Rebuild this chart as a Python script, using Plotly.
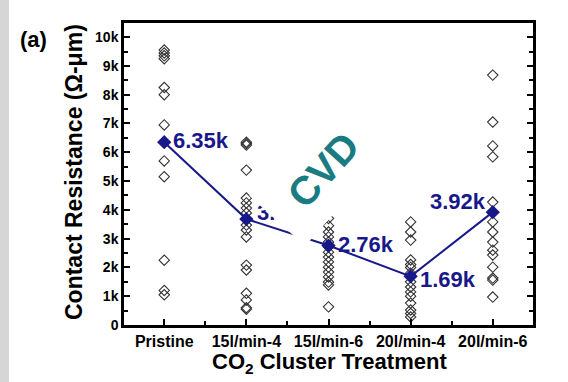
import plotly.graph_objects as go

# Treatments along the x axis
treatments = ["Pristine", "15l/min-4", "15l/min-6", "20l/min-4", "20l/min-6"]

# Individual device contact resistances (Ω-μm) for each treatment
pristine = [9550, 9450, 9350, 9250, 8250, 8000, 6950, 5700, 5150, 2250, 1200, 1050]
f15_4 = [6350, 6300, 6250, 5380, 4410, 4240, 4060, 3890, 3470, 3300, 3060,
         2080, 1910, 1100, 870, 600, 550]
f15_6 = [3700, 3450, 3230, 3060, 2880, 2710, 2530, 2360, 2190, 2010, 1840,
         1670, 1490, 1390, 630]
f20_4 = [3580, 3230, 2950, 2260, 2100, 2000, 1800, 1500, 1320, 1150, 1000,
         760, 520, 400, 280]
f20_6 = [8680, 7050, 6220, 5840, 4270, 3580, 3230, 2880, 2600, 2430, 2010,
         1630, 1560, 970]
devices = [pristine, f15_4, f15_6, f20_4, f20_6]

# Mean contact resistance per treatment and its label
means = [6350, 3680, 2760, 1690, 3920]
mean_labels = ["6.35k", "3.68k", "2.76k", "1.69k", "3.92k"]

y_tickvals = [0, 1000, 2000, 3000, 4000, 5000, 6000, 7000, 8000, 9000, 10000]
y_ticktext = ["0", "1k", "2k", "3k", "4k", "5k", "6k", "7k", "8k", "9k", "10k"]

NAVY = "#18188a"
FONT = "Liberation Sans, Arial, sans-serif"

W, H = 568, 382
L, R, T, B = 124, 35, 23, 57
pw, ph = W - L - R, H - T - B


def px_to_paper(xp, yp):
    return (xp - L) / pw, (H - B - yp) / ph


fig = go.Figure()

xs, ys = [], []
for i, vals in enumerate(devices):
    xs += [i] * len(vals)
    ys += vals
fig.add_trace(go.Scatter(
    x=xs, y=ys, mode="markers",
    marker=dict(symbol="diamond-open", size=8, color="#333333",
                line=dict(width=1.1, color="#333333")),
    showlegend=False, hoverinfo="skip"))

fig.add_trace(go.Scatter(
    x=list(range(len(treatments))), y=means, mode="lines+markers",
    line=dict(color=NAVY, width=2),
    marker=dict(symbol="diamond", size=11, color=NAVY),
    showlegend=False))

# value labels beside the mean markers
label_pos = [
    dict(xshift=7, yshift=2, xanchor="left"),
    dict(xshift=9, yshift=7, xanchor="left"),
    dict(xshift=7, yshift=1, xanchor="left"),
    dict(xshift=7, yshift=-3, xanchor="left"),
    dict(xshift=-5, yshift=11, xanchor="right"),
]
annotations = []
for i, (m, lab) in enumerate(zip(means, mean_labels)):
    p = label_pos[i]
    annotations.append(dict(
        x=i, y=m, xref="x", yref="y", text=f"<b>{lab}</b>", showarrow=False,
        xanchor=p["xanchor"], yanchor="middle", xshift=p["xshift"], yshift=p["yshift"],
        font=dict(family=FONT, size=22, color=NAVY)))


def paper_text(text, xp, yp, size, angle=0, **kw):
    x, y = px_to_paper(xp, yp)
    return dict(x=x, y=y, xref="paper", yref="paper", text=text, showarrow=False,
                xanchor="center", yanchor="middle", textangle=angle,
                font=dict(family=FONT, size=size, color=kw.pop("color", "black")), **kw)


# watermark stamp across the middle of the panel, on a white patch
annotations.append(paper_text("<b>\u00a0CVD\u00a0</b>", 323, 170, 40, angle=-48,
                              color="#1a7b82", bgcolor="white", borderpad=15))
annotations.append(paper_text("<b>(a)</b>", 33, 39, 22))
annotations.append(paper_text("<b>Contact Resistance (Ω-μm)</b>", 74, 172, 23, angle=-90))
annotations.append(paper_text("<b>CO<sub>2</sub> Cluster Treatment</b>", 329, 363, 22))

fig.update_layout(
    width=W, height=H,
    margin=dict(l=L, r=R, t=T, b=B, pad=0),
    paper_bgcolor="white", plot_bgcolor="white",
    annotations=annotations,
    font=dict(family=FONT, color="black"),
    shapes=[dict(type="rect", xref="paper", yref="paper",
                 x0=-L / pw, x1=(9 - L) / pw, y0=-B / ph, y1=1 + T / ph,
                 fillcolor="#d6d6d6", line=dict(width=0), layer="below")],
)

fig.update_xaxes(
    range=[-0.49, 4.49], tickmode="array", tickvals=list(range(5)),
    ticktext=[f"<b>{t}</b>" for t in treatments],
    ticks="inside", ticklen=6, tickwidth=2, tickcolor="black",
    minor=dict(tickmode="array", tickvals=[0.5, 1.5, 2.5, 3.5],
               ticks="inside", ticklen=4, tickwidth=2, tickcolor="black"),
    showline=True, linewidth=2.5, linecolor="black", mirror=True,
    showgrid=False, zeroline=False,
    tickfont=dict(family=FONT, size=16, color="black"))

fig.update_yaxes(
    range=[0, 10490], tickmode="array", tickvals=y_tickvals,
    ticktext=[f"<b>{t}</b>" for t in y_ticktext],
    ticks="inside", ticklen=6, tickwidth=2, tickcolor="black",
    minor=dict(tickmode="linear", tick0=500, dtick=1000,
               ticks="inside", ticklen=4, tickwidth=2, tickcolor="black"),
    showline=True, linewidth=2.5, linecolor="black", mirror="ticks",
    showgrid=False, zeroline=False,
    tickfont=dict(family=FONT, size=14, color="black"))

fig.write_html("out.html")
